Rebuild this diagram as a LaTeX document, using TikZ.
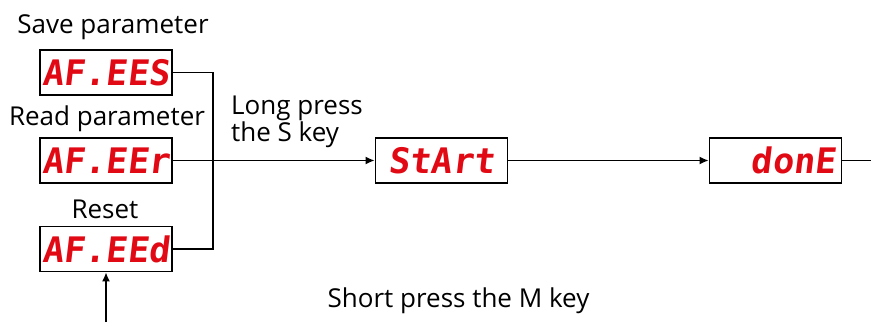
\documentclass[tikz,border=0pt]{standalone}
\usepackage{fontspec}
\setmainfont{Open Sans}
\newfontfamily\segfont[FakeSlant=0.12]{DejaVu Sans Mono}
\usetikzlibrary{arrows.meta}
\definecolor{segred}{RGB}{225,10,20}

\begin{document}
\begin{tikzpicture}[every node/.style={font=\fontsize{14.8}{17}\selectfont}, >={Latex[length=1.8mm,width=1.6mm]},
	lcd/.style={draw, line width=1pt, minimum width=2.64cm, minimum height=0.9cm, inner sep=1pt,
		text=segred, font=\segfont\bfseries\fontsize{20}{20}\selectfont}]
	\useasboundingbox (0,0) rectangle (17.42,6.44);
	% parameter operations
	\node[lcd] (save) at (2.12,4.99) {AF.EES};
	\node[lcd] (read) at (2.12,3.23) {AF.EEr};
	\node[lcd] (reset) at (2.12,1.46) {AF.EEd};
	\node (savelbl) at (2.26,5.9) {Save parameter};
	\node (readlbl) at (2.14,4.06) {Read parameter};
	\node (resetlbl) at (2.10,2.26) {Reset};
	% progress
	\node[lcd] (start) at (8.83,3.23) {StArt};
	\node[lcd, text width=2.4cm, align=right] (done) at (15.51,3.23) {donE};
	\node[anchor=west, align=left, font=\fontsize{14.8}{15.5}\selectfont] (longpress) at (4.5,4.0) {Long press\\the S key};
	\node (shortpress) at (9.17,0.42) {Short press the M key};
	\coordinate (jx) at (4.26,0);
	\coordinate (outr) at (17.42,3.23);
	\coordinate (mkey) at (reset.south |- 0,0);
	\draw[line width=0.9pt] (save.east) -- (save.east -| jx) -- (reset.east -| jx) -- (reset.east);
	\draw[line width=0.9pt, ->] (read.east) -- (start.west);
	\draw[line width=0.9pt, ->] (start.east) -- (done.west);
	\draw[line width=0.9pt] (done.east) -- (outr);
	\draw[line width=0.9pt, ->] (mkey) -- (reset.south);
\end{tikzpicture}
\end{document}
